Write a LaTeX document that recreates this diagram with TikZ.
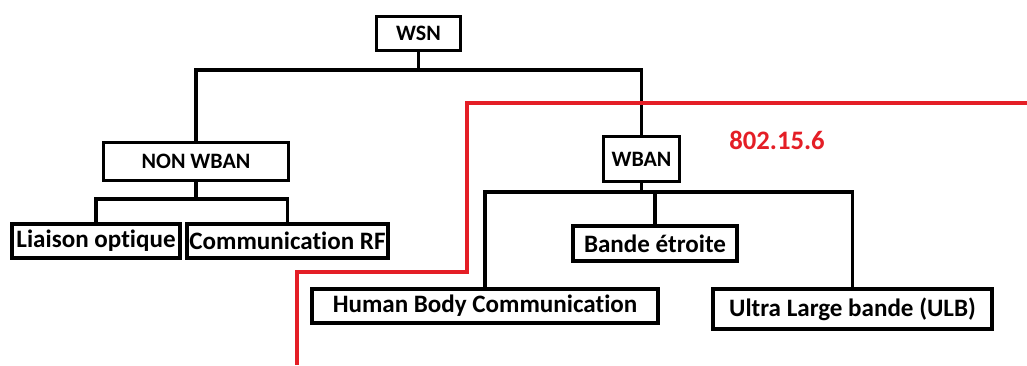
\documentclass[tikz,border=0pt]{standalone}
\usepackage{fontspec}
\setmainfont{Carlito}[Ligatures=NoCommon]
\definecolor{redline}{RGB}{228,30,38}

\begin{document}
\begin{tikzpicture}[x=0.75pt, y=-0.75pt,
  inner/.style={draw, line width=2.25pt, inner sep=0pt, font=\fontsize{16.5}{18}\selectfont\bfseries},
  leaf/.style={draw, line width=3pt, inner sep=0pt, font=\fontsize{18.8}{20}\selectfont\bfseries},
  link/.style={line width=2.8pt}]
  \useasboundingbox (0,0) rectangle (1027,365);

  \node (wsn) [inner, minimum width=63pt, minimum height=25.5pt] at (418.5,33.5) {WSN};

  \node (nonwban) [inner, minimum width=138.75pt, minimum height=28.5pt] at (196,161.5) {NON WBAN};
  \node (wban) [inner, minimum width=57pt, minimum height=33.75pt] at (641.5,159) {WBAN};

  \node (liaison) [leaf, minimum width=126pt, minimum height=25.5pt] at (96,241) {Liaison optique};
  \node (rf) [leaf, minimum width=150.75pt, minimum height=25.5pt] at (287.5,241) {Communication RF};

  \node (bande) [leaf, minimum width=123pt, minimum height=26.25pt] at (655,243.5) {Bande étroite};
  \node (hbc) [leaf, minimum width=259.5pt, minimum height=25.5pt] at (485,306) {Human Body Communication};
  \node (ulb) [leaf, minimum width=209.25pt, minimum height=30pt] at (852.5,309) {Ultra Large bande (ULB)};

  \coordinate (top) at (420,70);
  \coordinate (left) at (196,199);
  \coordinate (right) at (643,192);

  \draw [link] (wsn.south) -- (wsn.south |- top);
  \draw [link] (nonwban.north) |- (top) -| (wban.north);

  \draw [link] (nonwban.south) -- (nonwban.south |- left);
  \draw [link] (liaison.north) |- (left) -| (rf.north);

  \draw [link] (wban.south) -- (wban.south |- right);
  \draw [link] (hbc.north) |- (right) -| (ulb.north);
  \draw [link] (bande.north) -- (bande.north |- right);

  \draw [redline, line width=3pt] (1027,103) -- (467,103) -- (467,272) -- (297,272) -- (297,365);
  \node (std) [text=redline, font=\fontsize{20}{22}\selectfont\bfseries] at (777,140) {802.15.6};
\end{tikzpicture}
\end{document}
